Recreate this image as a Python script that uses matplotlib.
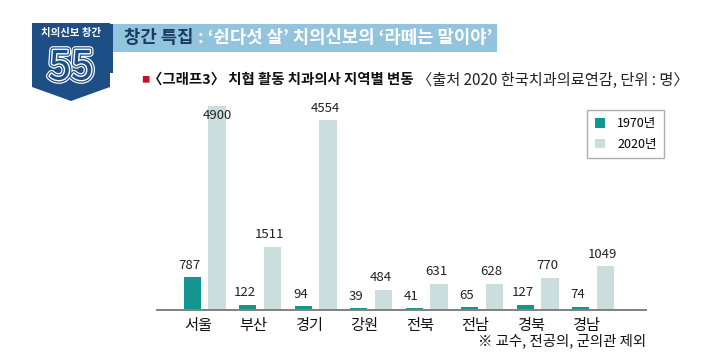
import matplotlib

matplotlib.use("Agg")
import matplotlib.pyplot as plt
import matplotlib.patheffects as pe
import numpy as np
from matplotlib.patches import Polygon, Rectangle

plt.rcParams["font.family"] = ["Noto Sans CJK KR", "DejaVu Sans"]

# data (unit: persons)
regions = ["서울", "부산", "경기", "강원", "전북", "전남", "경북", "경남"]
dentists_1970 = [787, 122, 94, 39, 41, 65, 127, 74]
dentists_2020 = [4900, 1511, 4554, 484, 631, 628, 770, 1049]
series_labels = ["1970년", "2020년"]

title_head = "창간 특집"
title_tail = " : ‘쉰다섯 살’ 치의신보의 ‘라떼는 말이야’"
subtitle_bold = "〈그래프3〉 치협 활동 치과의사 지역별 변동"
subtitle_note = "〈출처 2020 한국치과의료연감, 단위 : 명〉"
footnote = "※ 교수, 전공의, 군의관 제외"

NAVY = "#1d4e86"
TEAL = "#13968f"
PALE = "#cadfdd"
BAR_BLUE = "#92c4dd"

W, H = 720, 363


def fx(px):
    return px / W


def fy(py):
    return 1 - py / H


fig = plt.figure(figsize=(7.2, 3.63), dpi=100)

# badge
badge = Polygon(
    [(fx(32), fy(23)), (fx(110), fy(23)), (fx(110), fy(87)),
     (fx(71), fy(101)), (fx(32), fy(87))],
    closed=True, transform=fig.transFigure, facecolor=NAVY, edgecolor="none",
)
fig.patches.append(badge)
fig.text(fx(71), fy(33), "치의신보 창간", color="white", fontsize=7.5,
         fontweight="bold", ha="center", va="center")
fig.text(fx(71), fy(68), "55", color=NAVY, fontsize=29, ha="center",
         va="center", fontstretch="condensed",
         path_effects=[pe.Stroke(linewidth=5.5, foreground="white"),
                       pe.Stroke(linewidth=3.8, foreground=NAVY),
                       pe.Stroke(linewidth=2, foreground="white"),
                       pe.Normal()])

# title bar
fig.patches.append(Rectangle((fx(110), fy(52)), fx(497) - fx(110), fy(24) - fy(52),
                             transform=fig.transFigure, facecolor=BAR_BLUE,
                             edgecolor="none"))
fig.patches.append(Rectangle((fx(110), fy(73)), fx(113) - fx(110), fy(24) - fy(73),
                             transform=fig.transFigure, facecolor=NAVY,
                             edgecolor="none"))

renderer = fig.canvas.get_renderer()
t1 = fig.text(fx(124), fy(38), title_head, color="#1b3a66", fontsize=12.8,
              fontweight="bold", va="center")
x_end = t1.get_window_extent(renderer).x1 / fig.dpi / 7.2
fig.text(x_end, fy(38), title_tail, color="white", fontsize=12.8,
         fontweight="bold", va="center")

# subtitle
fig.text(fx(141), fy(80), "■", color="#c8102e", fontsize=6, va="center")
s1 = fig.text(fx(148), fy(80), subtitle_bold, color="#111111", fontsize=10.4,
              fontweight="bold", va="center")
x_end = s1.get_window_extent(renderer).x1 / fig.dpi / 7.2
fig.text(x_end + fx(4), fy(80), subtitle_note, color="#222222", fontsize=11,
         va="center")

# chart area: baseline at y=310px, 0.0417 px per person
y_top = 5000
ax = fig.add_axes([fx(157), fy(310), fx(646) - fx(157), (y_top * 0.0417) / H])
x = np.arange(len(regions))
width = 0.31
b1 = ax.bar(x - 0.22, dentists_1970, width, color=TEAL, label=series_labels[0])
b2 = ax.bar(x + 0.225, dentists_2020, width, color=PALE, label=series_labels[1])
ax.set_xlim(-0.856, 7.955)
ax.set_ylim(0, y_top)

for bars, values in ((b1, dentists_1970), (b2, dentists_2020)):
    for bar, v in zip(bars, values):
        cx = bar.get_x() + bar.get_width() / 2
        if v > 4600:
            ax.text(cx, 4660, str(v), ha="center", va="center", fontsize=9.5,
                    color="#222222")
        else:
            ax.annotate(str(v), (cx, v), xytext=(-2, 4), textcoords="offset points",
                        ha="center", va="bottom", fontsize=9.5, color="#222222")

for side in ("top", "left", "right"):
    ax.spines[side].set_visible(False)
ax.spines["bottom"].set_color("#808080")
ax.spines["bottom"].set_linewidth(1.4)
ax.set_yticks([])
ax.set_xticks(x - 0.12)
ax.set_xticklabels(regions, fontsize=11, color="#111111")
ax.tick_params(axis="x", length=0, pad=5)
ax.patch.set_visible(False)

leg = ax.legend(loc="upper left", bbox_to_anchor=(fx(587), fy(110)),
                bbox_transform=fig.transFigure, fontsize=9, frameon=True,
                fancybox=False, handlelength=0.8, handleheight=0.8,
                borderpad=0.6, labelspacing=0.6, handletextpad=1.0,
                borderaxespad=0)
leg.get_frame().set_edgecolor("#9a9a9a")
leg.get_frame().set_linewidth(1.0)

fig.text(fx(646), fy(341), footnote, ha="right", va="center", fontsize=10.4,
         color="#111111")

fig.savefig("out.png", dpi=100)
plt.close(fig)
